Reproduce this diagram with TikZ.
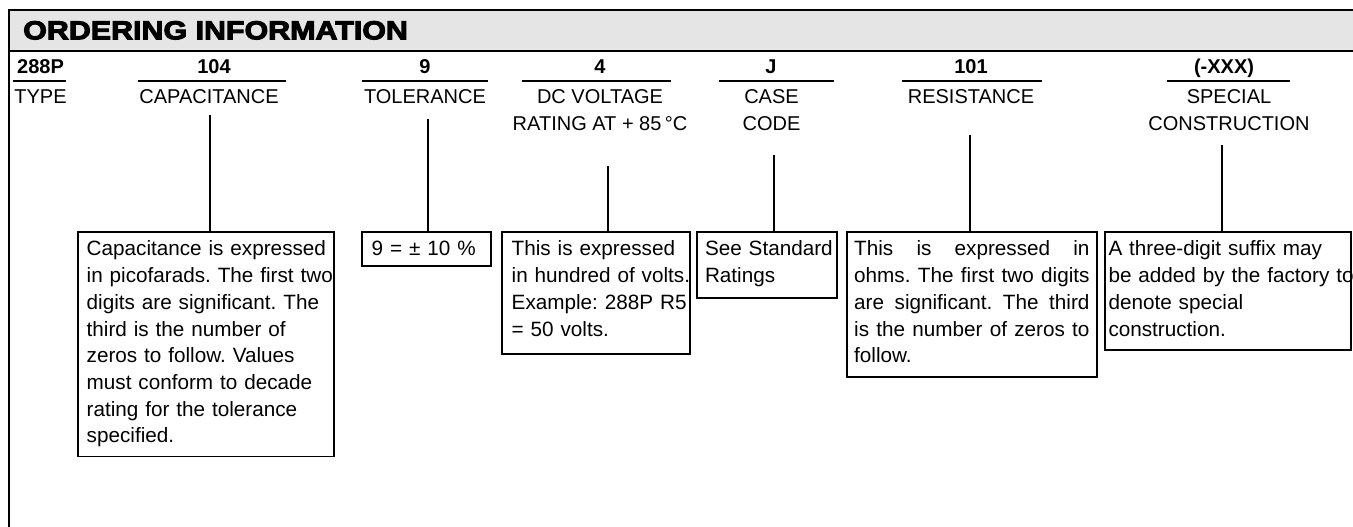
\documentclass[tikz,border=0pt]{standalone}
\usepackage{fontspec}
\setmainfont{Liberation Sans}
\newfontfamily\headfont[FakeStretch=1.17,FakeBold=4]{Liberation Sans Bold}
\newfontfamily\notefont[WordSpace=0.61]{Liberation Sans}
\usetikzlibrary{positioning,calc}
\tikzset{
    codenum/.style = {anchor=base, inner sep=0pt,
        font={\fontsize{20pt}{24pt}\selectfont\bfseries}},
    fieldname/.style = {anchor=base, inner sep=0pt, align=center,
        font={\fontsize{20pt}{27.5pt}\selectfont}},
    notebox/.style = {draw, line width=1.8pt, anchor=north west, outer sep=0pt,
        inner xsep=9pt, inner ysep=8.9pt, align=left,
        font={\notefont\fontsize{20.7pt}{26.7pt}\selectfont\frenchspacing}},
    underbar/.style = {line width=2pt},
    link/.style = {draw, line width=2pt}
}
\newcommand{\lowstrut}[1]{\rule[-#1]{0pt}{#1}}
\newcommand{\fullline}[1]{\makebox[235.3pt][s]{#1}}

\begin{document}
\begin{tikzpicture}[x=1pt, y=-1pt]
    \useasboundingbox (0,0) rectangle (1353,527);
    % header band
    \fill[gray!20] (8.7,10) rectangle (1353,50.7);
    \draw[line width=1.8pt] (8.7,528) -- (8.7,10) -- (1354,10);
    \draw[line width=2pt] (8.7,50.7) -- (1354,50.7);
    \node[anchor=base west, inner sep=0pt, font={\headfont\fontsize{26pt}{30pt}\selectfont}] (title) at (23,39.3) {ORDERING INFORMATION};
    % code digits
    \node[codenum] (ntype) at (40.5,74) {288P};
    \node[codenum] (ncap) at (214,74) {104};
    \node[codenum] (ntol) at (425,74) {9};
    \node[codenum] (nvolt) at (600,74) {4};
    \node[codenum] (ncase) at (771,74) {J};
    \node[codenum] (nres) at (971,74) {101};
    \node[codenum] (nspec) at (1224,74) {(-XXX)};
    \draw[underbar] (12.7,80.7) -- (65.7,80.7);
    \draw[underbar] (138,80.7) -- (286,80.7);
    \draw[underbar] (362,80.7) -- (488,80.7);
    \draw[underbar] (522,80.7) -- (671,80.7);
    \draw[underbar] (719,80.7) -- (834,80.7);
    \draw[underbar] (902,80.7) -- (1042,80.7);
    \draw[underbar] (1167,80.7) -- (1290,80.7);
    % field names (two-line ones sit on their last line)
    \node[fieldname] (ltype) at (40.5,103.5) {TYPE};
    \node[fieldname] (lcap) at (209,103.5) {CAPACITANCE};
    \node[fieldname] (ltol) at (425,103.5) {TOLERANCE};
    \node[fieldname] (lvolt) at (600,131) {DC VOLTAGE\\RATING AT + 85\,°C};
    \node[fieldname] (lcase) at (771.5,131) {CASE\\CODE};
    \node[fieldname] (lres) at (971,103.5) {RESISTANCE};
    \node[fieldname] (lspec) at (1229,131) {SPECIAL\\CONSTRUCTION};
    % explanation boxes
    \node[notebox, text width=238.3pt] (bcap) at (77.7,232) {\mbox{Capacitance is expressed}\\\mbox{in picofarads. The first two}\\\mbox{digits are significant. The}\\\mbox{third is the number of}\\\mbox{zeros to follow. Values}\\\mbox{must conform to decade}\\\mbox{rating for the tolerance}\\\mbox{specified.}\lowstrut{4.8pt}};
    \node[notebox, inner xsep=10pt, text width=109.3pt] (btol) at (361.7,232) {\mbox{9 = ± 10 \%}\lowstrut{1.8pt}};
    \node[notebox, inner xsep=10pt, text width=168.3pt] (bvolt) at (501.7,232) {\mbox{This is expressed}\\\mbox{in hundred of volts.}\\\mbox{Example: 288P R5}\\\mbox{= 50 volts.}\lowstrut{9.1pt}};
    \node[notebox, inner xsep=8pt, text width=124pt] (bcase) at (697,232) {\mbox{See Standard}\\\mbox{Ratings}\lowstrut{6.4pt}};
    \node[notebox, inner xsep=7.5pt, text width=235.3pt] (bres) at (846.7,232) {\fullline{This\hfill is\hfill expressed\hfill in}\\\fullline{ohms.\hfill The\hfill first\hfill two\hfill digits}\\\fullline{are\hfill significant.\hfill The\hfill third}\\\fullline{is\hfill the\hfill number\hfill of\hfill zeros\hfill to}\\\mbox{follow.}\lowstrut{5.1pt}};
    \node[notebox, inner xsep=3.5pt, text width=238.7pt] (bspec) at (1105,232) {\mbox{A three-digit suffix may}\\\mbox{be added by the factory to}\\\mbox{denote special}\\\mbox{construction.}\lowstrut{5.1pt}};
    % leaders
    \coordinate (tcap) at (210,115);
    \coordinate (ttol) at (428,119);
    \coordinate (tvolt) at (608,166);
    \coordinate (tcase) at (773.7,155);
    \coordinate (tres) at (970,135);
    \coordinate (tspec) at (1221.7,145);
    \draw[link] (tcap) -- (tcap |- bcap.north);
    \draw[link] (ttol) -- (ttol |- btol.north);
    \draw[link] (tvolt) -- (tvolt |- bvolt.north);
    \draw[link] (tcase) -- (tcase |- bcase.north);
    \draw[link] (tres) -- (tres |- bres.north);
    \draw[link] (tspec) -- (tspec |- bspec.north);
\end{tikzpicture}
\end{document}
